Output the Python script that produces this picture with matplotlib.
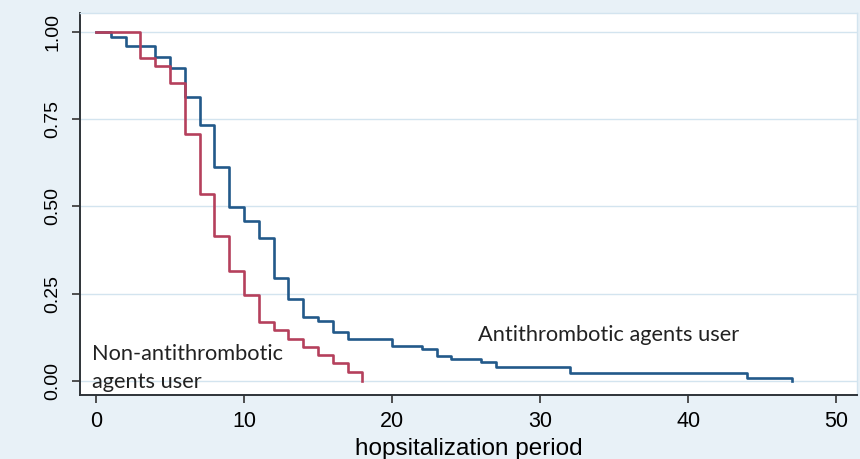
import matplotlib
matplotlib.use("Agg")
import matplotlib.pyplot as plt

# Kaplan-Meier step data (time, survival)
anti_time = [0, 1, 2, 4, 5, 6, 7, 8, 9, 10, 11, 12, 13, 14, 15, 16, 17, 20, 22, 23, 24, 26, 27, 32, 44, 47]
anti_surv = [1.0, 0.985, 0.961, 0.930, 0.897, 0.815, 0.735, 0.613, 0.499, 0.459, 0.410, 0.294, 0.235,
             0.183, 0.172, 0.140, 0.121, 0.101, 0.090, 0.071, 0.061, 0.053, 0.040, 0.021, 0.007, 0.0]

non_time = [0, 3, 4, 5, 6, 7, 8, 9, 10, 11, 12, 13, 14, 15, 16, 17, 18]
non_surv = [1.0, 0.925, 0.903, 0.854, 0.708, 0.536, 0.415, 0.316, 0.246, 0.169, 0.145, 0.119,
            0.097, 0.074, 0.050, 0.024, 0.0]

x_ticks = [0, 10, 20, 30, 40, 50]
y_ticks = [0.0, 0.25, 0.5, 0.75, 1.0]
y_ticklabels = ["0.00", "0.25", "0.50", "0.75", "1.00"]

BG = "#e8f1f7"
BLUE = "#22598a"
RED = "#b5405c"

fig = plt.figure(figsize=(8.6, 4.59), dpi=100, facecolor=BG)
ax = fig.add_axes([0.093, 0.1394, 0.9035, 0.8322])
ax.set_facecolor("white")

ax.step(anti_time, anti_surv, where="post", color=BLUE, lw=1.9, zorder=3)
ax.step(non_time, non_surv, where="post", color=RED, lw=1.9, zorder=3)

ax.set_xlim(-1.08, 51.4)
ax.set_ylim(-0.041, 1.055)

for y in y_ticks:
    ax.axhline(y, color="#d3e4ef", lw=1.0, zorder=1)

ax.set_xticks(x_ticks)
ax.set_xticklabels([str(t) for t in x_ticks], fontsize=15.5, family="Liberation Sans")
ax.set_yticks(y_ticks)
ax.set_yticklabels(y_ticklabels, fontsize=14, family="Liberation Sans", rotation=90, va="center")

ax.tick_params(axis="both", direction="out", length=6, width=1.2, color="#333333")
ax.tick_params(axis="x", pad=5.5)
ax.tick_params(axis="y", pad=7.5)

for s in ["left", "bottom"]:
    ax.spines[s].set_color("#2e3338")
    ax.spines[s].set_linewidth(1.4)
for s in ["top", "right"]:
    ax.spines[s].set_color("#d3e4ef")
    ax.spines[s].set_linewidth(1.0)

ax.set_xlabel("hopsitalization period", fontsize=17.5, family="Liberation Sans", labelpad=4)

ax.text(25.8, 0.13, "Antithrombotic agents user", fontsize=15.7, family="Lato", ha="left", va="center", color="#222222")
ax.text(-0.3, 0.076, "Non-antithrombotic", fontsize=15.7, family="Lato", ha="left", va="center", color="#222222")
ax.text(-0.3, -0.003, "agents user", fontsize=15.7, family="Lato", ha="left", va="center", color="#222222")

fig.savefig("out.png", dpi=100, facecolor=BG)
